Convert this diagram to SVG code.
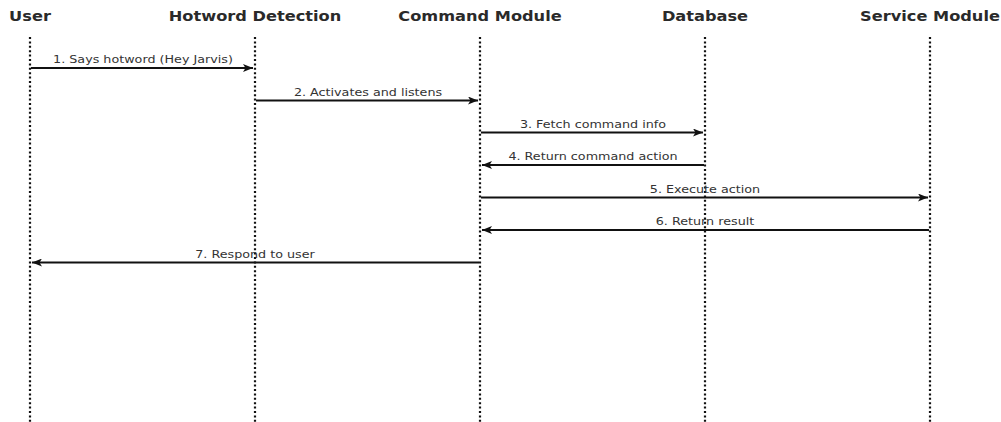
<svg xmlns="http://www.w3.org/2000/svg" width="1001" height="422" viewBox="0 0 1001 422">
<defs>
<style>
.hdr{font-family:"DejaVu Sans",sans-serif;font-weight:bold;font-size:13.5px;fill:#2a2a2a;text-anchor:middle}
.lbl{font-family:"DejaVu Sans",sans-serif;font-size:10.8px;fill:#333;text-anchor:middle}
.life{stroke:#111;stroke-width:2.2;stroke-dasharray:2 2.4;fill:none}
.msg{stroke:#111;stroke-width:2;fill:none}
</style>
<marker id="ah" viewBox="0 0 10 8" refX="10" refY="4" markerWidth="10" markerHeight="8" markerUnits="userSpaceOnUse" orient="auto">
<path d="M0,0 L10,4 L0,8 L2.5,4 Z" fill="#111"/>
</marker>
</defs>
<rect width="1001" height="422" fill="#fff"/>
<g id="user"><text class="hdr" transform="translate(30,21) scale(1.2,1)">User</text><line class="life" x1="30" y1="37" x2="30" y2="422"/></g>
<g id="hotword"><text class="hdr" transform="translate(255,21) scale(1.2,1)">Hotword Detection</text><line class="life" x1="255" y1="37" x2="255" y2="422"/></g>
<g id="command"><text class="hdr" transform="translate(480,21) scale(1.2,1)">Command Module</text><line class="life" x1="480" y1="37" x2="480" y2="422"/></g>
<g id="database"><text class="hdr" transform="translate(705,21) scale(1.2,1)">Database</text><line class="life" x1="705" y1="37" x2="705" y2="422"/></g>
<g id="service"><text class="hdr" transform="translate(930,21) scale(1.2,1)">Service Module</text><line class="life" x1="930" y1="37" x2="930" y2="422"/></g>
<g id="connectors">
<line class="msg" x1="31" y1="68" x2="253" y2="68" marker-end="url(#ah)"/>
<text class="lbl" transform="translate(143,63) scale(1.18,1)">1. Says hotword (Hey Jarvis)</text>
<line class="msg" x1="256" y1="100.5" x2="478" y2="100.5" marker-end="url(#ah)"/>
<text class="lbl" transform="translate(368,95.5) scale(1.18,1)">2. Activates and listens</text>
<line class="msg" x1="481" y1="132.5" x2="703" y2="132.5" marker-end="url(#ah)"/>
<text class="lbl" transform="translate(593,127.5) scale(1.18,1)">3. Fetch command info</text>
<line class="msg" x1="704" y1="165" x2="482" y2="165" marker-end="url(#ah)"/>
<text class="lbl" transform="translate(593,160) scale(1.18,1)">4. Return command action</text>
<line class="msg" x1="481" y1="197.5" x2="928" y2="197.5" marker-end="url(#ah)"/>
<text class="lbl" transform="translate(705,192.5) scale(1.18,1)">5. Execute action</text>
<line class="msg" x1="929" y1="230" x2="482" y2="230" marker-end="url(#ah)"/>
<text class="lbl" transform="translate(705,225) scale(1.18,1)">6. Return result</text>
<line class="msg" x1="479" y1="262.5" x2="32" y2="262.5" marker-end="url(#ah)"/>
<text class="lbl" transform="translate(255,257.5) scale(1.18,1)">7. Respond to user</text>
</g>
</svg>
